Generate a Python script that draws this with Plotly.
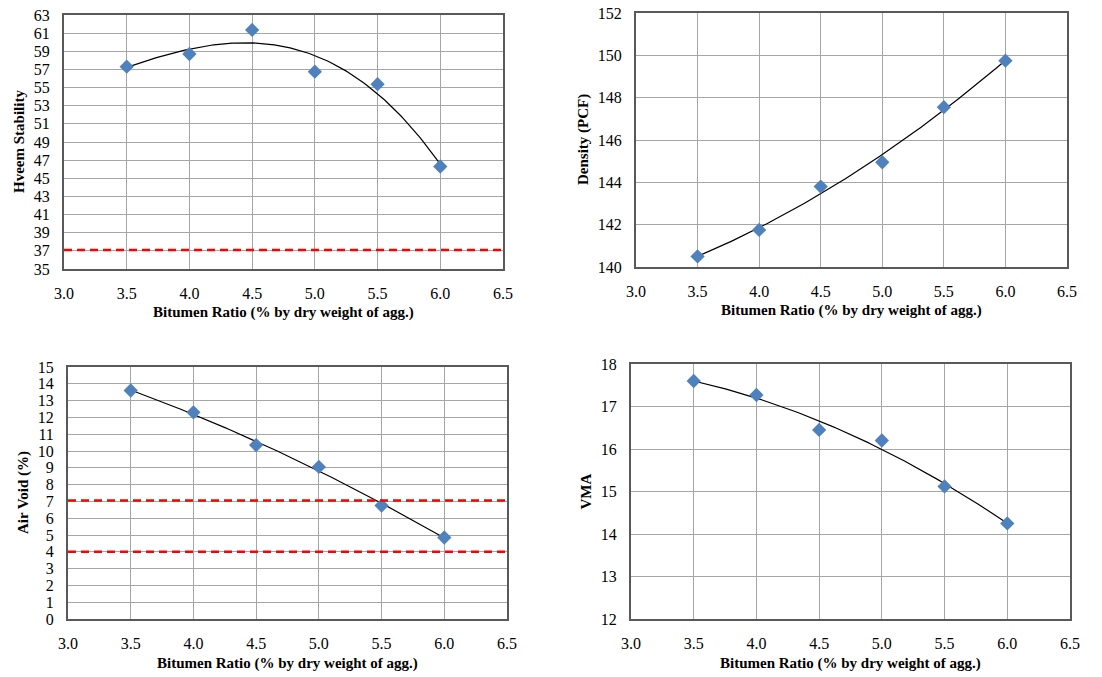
import numpy as np
import plotly.graph_objects as go

# ---------------- data ----------------
bitumen = [3.5, 4.0, 4.5, 5.0, 5.5, 6.0]
hveem = [57.3, 58.7, 61.35, 56.75, 55.37, 46.3]
density = [140.5, 141.75, 143.8, 144.95, 147.55, 149.75]
air_void = [13.6, 12.3, 10.35, 9.05, 6.75, 4.85]
vma = [17.6, 17.27, 16.45, 16.2, 15.12, 14.25]

hveem_limits = [37.1]
air_void_limits = [7.05, 4.0]

x_title = "Bitumen Ratio (% by dry weight of agg.)"
y_titles = ["Hveem Stability", "Density (PCF)", "Air Void (%)", "VMA"]
trend_degree = [3, 2, 2, 2]

# ---------------- layout geometry ----------------
W, H = 1102, 677


def px(p):
    return p / W


def py(p):
    return 1 - p / H


# (left, right, top, bottom) in page pixels
boxes = [(64, 503, 15, 269), (636, 1067, 13, 267), (68, 507, 367, 619), (631, 1070, 364, 619)]
y_ranges = [(35, 63, 2), (140, 152, 2), (0, 15, 1), (12, 18, 1)]
series = [hveem, density, air_void, vma]
limits = [hveem_limits, [], air_void_limits, []]

FONT = "Liberation Serif, Times New Roman, serif"
fig = go.Figure()
layout = dict(template="none", width=W, height=H, margin=dict(l=0, r=0, t=0, b=0, autoexpand=False),
              paper_bgcolor="white", plot_bgcolor="white", showlegend=False,
              font=dict(family=FONT, color="black"),
              shapes=[], annotations=[])

for i in range(4):
    l, r, t, b = boxes[i]
    xa = "xaxis" if i == 0 else f"xaxis{i+1}"
    ya = "yaxis" if i == 0 else f"yaxis{i+1}"
    xr = "x" if i == 0 else f"x{i+1}"
    yr = "y" if i == 0 else f"y{i+1}"
    lo, hi, dt = y_ranges[i]
    axis_common = dict(showgrid=True, gridcolor="#a6a6a6", gridwidth=1.3,
                       showline=True, linecolor="#595959", linewidth=2, mirror=True,
                       zeroline=False, ticks="", ticklabelstandoff=9, automargin=False,
                       ticklabeloverflow="allow",
                       tickfont=dict(family=FONT, size=16, color="black"))
    layout[xa] = dict(domain=[px(l), px(r)], anchor=yr, range=[3.0, 6.5], dtick=0.5,
                      tick0=3.0, tickformat=".1f", **axis_common)
    layout[ya] = dict(domain=[py(b), py(t)], anchor=xr, range=[lo, hi], dtick=dt,
                      tick0=lo, **axis_common)

    # trendline
    coef = np.polyfit(bitumen, series[i], trend_degree[i])
    xs = np.linspace(min(bitumen), max(bitumen), 120)
    fig.add_trace(go.Scatter(x=xs, y=np.polyval(coef, xs), mode="lines",
                             line=dict(color="black", width=1.2), xaxis=xr, yaxis=yr,
                             hoverinfo="skip"))
    # data markers
    fig.add_trace(go.Scatter(x=bitumen, y=series[i], mode="markers",
                             marker=dict(symbol="diamond", size=11, color="#4F81BD"),
                             xaxis=xr, yaxis=yr))
    # limit lines
    for v in limits[i]:
        layout["shapes"].append(dict(type="line", xref=f"{xr} domain", yref=yr,
                                     x0=0, x1=1, y0=v, y1=v,
                                     line=dict(color="#FF0000", width=2.5, dash="8px,5px")))
    # axis titles
    layout["annotations"].append(dict(text="<b>" + x_title + "</b>", xref="paper", yref="paper",
                                      x=px((l + r) / 2), y=py(b + 44),
                                      showarrow=False, xanchor="center", yanchor="middle",
                                      font=dict(family=FONT, size=15, color="black")))
    title_x = [19, 583, 23, 585][i]
    layout["annotations"].append(dict(text="<b>" + y_titles[i] + "</b>", xref="paper", yref="paper",
                                      x=px(title_x), y=py((t + b) / 2), textangle=-90,
                                      showarrow=False, xanchor="center", yanchor="middle",
                                      font=dict(family=FONT, size=15, color="black")))

fig.update_layout(**layout)
fig.write_html("out.html", config={"displayModeBar": False},
               post_script="document.body.style.margin='0';document.body.style.overflow='hidden';")
